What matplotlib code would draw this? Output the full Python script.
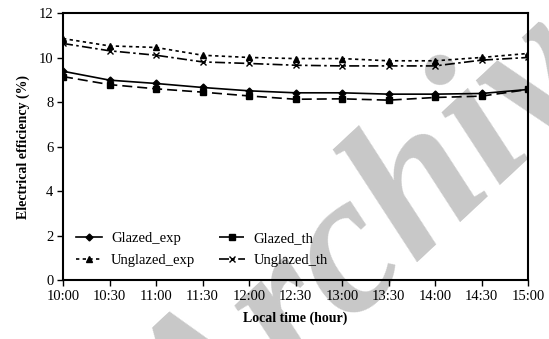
import matplotlib
matplotlib.use("Agg")
import matplotlib.pyplot as plt

times = ["10:00", "10:30", "11:00", "11:30", "12:00", "12:30",
         "13:00", "13:30", "14:00", "14:30", "15:00"]
glazed_exp = [9.39, 8.99, 8.84, 8.66, 8.51, 8.42, 8.42, 8.36, 8.36, 8.39, 8.57]
glazed_th = [9.15, 8.79, 8.60, 8.45, 8.28, 8.13, 8.15, 8.09, 8.21, 8.27, 8.57]
unglazed_exp = [10.86, 10.53, 10.46, 10.11, 10.01, 9.96, 9.96, 9.86, 9.86, 10.01, 10.19]
unglazed_th = [10.64, 10.31, 10.11, 9.81, 9.74, 9.66, 9.63, 9.63, 9.63, 9.89, 10.01]

plt.rcParams["font.family"] = ["Liberation Serif", "DejaVu Serif"]

fig = plt.figure(figsize=(5.49, 3.39), dpi=100)
ax = fig.add_axes([0.1148, 0.174, 0.847, 0.787])
ax.set_zorder(1)
ax.patch.set_alpha(0)

# faint watermark behind the plot (runs off the page, as in the source)
fig.text(0.73, 0.35, "Archive", fontsize=145, fontweight="bold", fontstyle="italic",
         color="#c8c8c8", rotation=43, ha="center", va="center", zorder=0)

x = list(range(len(times)))
l1, = ax.plot(x, glazed_exp, color="black", lw=1.2, ls="-", marker="D", ms=3.5,
              label="Glazed_exp")
l2, = ax.plot(x, glazed_th, color="black", lw=1.2, ls=(0, (6, 3)), marker="s", ms=4,
              label="Glazed_th")
l3, = ax.plot(x, unglazed_exp, color="black", lw=1.2, ls=(0, (2, 2)), marker="^", ms=4,
              label="Unglazed_exp")
l4, = ax.plot(x, unglazed_th, color="black", lw=1.2, ls=(0, (6, 2, 1.5, 2)), marker="x",
              ms=4, mew=1, label="Unglazed_th")

ax.set_xlim(0, len(times) - 1)
ax.set_ylim(0, 12)
ax.set_yticks(range(0, 13, 2))
ax.set_xticks(x)
ax.set_xticklabels(times)
ax.tick_params(direction="out", length=4, width=1, labelsize=10.5, pad=3)
for s in ax.spines.values():
    s.set_linewidth(1.5)

ax.set_xlabel("Local time (hour)", fontsize=10, fontweight="bold", labelpad=6)
ax.set_ylabel("Electrical efficiency (%)", fontsize=10, fontweight="bold", labelpad=6)

# legend fills column-wise, so order handles to get rows of glazed / unglazed
ax.legend([l1, l3, l2, l4], ["Glazed_exp", "Unglazed_exp", "Glazed_th", "Unglazed_th"],
          loc="lower left", ncol=2, frameon=False, fontsize=10.5,
          handlelength=1.8, columnspacing=1.6, handletextpad=0.6,
          borderaxespad=0.5, labelspacing=0.6)

fig.savefig("out.png", dpi=100)
